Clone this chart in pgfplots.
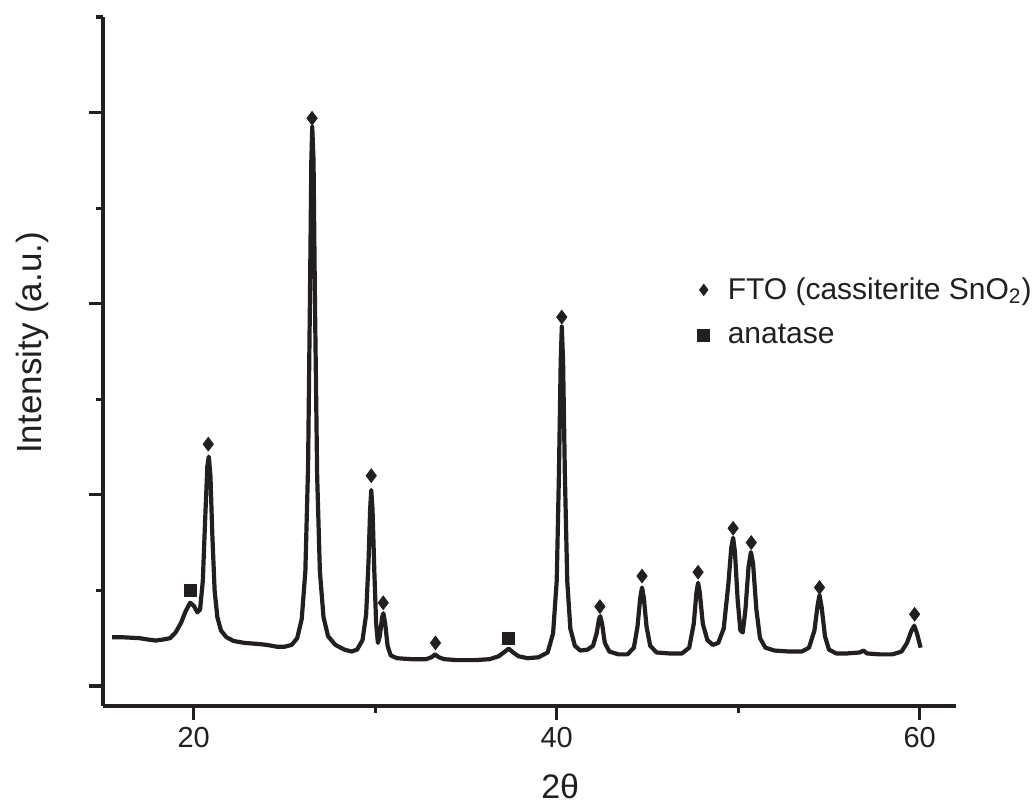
\documentclass[border=0pt]{standalone}
\usepackage{fontspec}
\setmainfont{Liberation Sans}
\usepackage{pgfplots}
\pgfplotsset{compat=1.18}
\usetikzlibrary{calc}
\definecolor{ink}{RGB}{35,31,32}

\begin{document}
\begin{tikzpicture}
\begin{axis}[
  scale only axis,
  width=426.5pt, height=344.5pt,
  xmin=15, xmax=62, ymin=-0.21, ymax=7,
  axis lines*=left,
  axis line style={ink, line width=1.6pt, -},
  tick align=outside,
  major tick length=7pt, minor tick length=3.5pt,
  tick style={ink, line width=1.6pt},
  xtick={20,40,60}, minor xtick={30,50},
  ytick={0,2,4,6}, minor ytick={1,3,5,7}, yticklabels={},
  /pgf/number format/assume math mode=true,
  xticklabel style={font=\fontsize{14.5}{17}\selectfont, text=ink},
  xlabel={2θ}, ylabel={Intensity (a.u.)},
  xlabel style={font=\fontsize{17}{20}\selectfont, text=ink,
    at={(axis description cs:0.536,-0.117)}, anchor=center},
  ylabel style={font=\fontsize{17.5}{20}\selectfont, text=ink,
    at={(axis description cs:-0.083,0.527)}, anchor=center},
  legend style={at={(axis cs:47.75,4.32)}, anchor=north west, draw=none, fill=none,
    font=\fontsize{15}{18}\selectfont, text=ink, row sep=7pt, inner sep=0pt},
  legend cell align=left,
  legend image code/.code={\draw[mark repeat=2,mark phase=2] plot coordinates {(0pt,0pt)(4pt,0pt)(8pt,0pt)};},
  clip=false,
]
\coordinate (sw) at (rel axis cs:0,0);

% XRD pattern
\addplot[ink, line width=2.1pt, line join=round, forget plot] coordinates {
(15.5,0.51) (16.0,0.51) (16.5,0.505) (17.0,0.50) (17.5,0.485) (17.9,0.475)
(18.3,0.485) (18.7,0.50) (19.0,0.56) (19.3,0.66) (19.55,0.78) (19.8,0.87)
(20.0,0.84) (20.2,0.77) (20.35,0.80) (20.5,1.1) (20.62,1.7) (20.75,2.3)
(20.83,2.40) (20.92,2.2) (21.02,1.6) (21.15,1.0) (21.3,0.72) (21.5,0.58)
(21.8,0.51) (22.2,0.47) (22.8,0.45) (23.5,0.44) (24.0,0.43) (24.6,0.41)
(25.0,0.41) (25.4,0.43) (25.7,0.50) (25.95,0.70) (26.15,1.2) (26.3,2.3)
(26.4,4.0) (26.48,5.5) (26.53,5.85) (26.6,5.5) (26.68,4.0) (26.8,2.2)
(26.95,1.2) (27.15,0.72) (27.4,0.52) (27.8,0.43) (28.3,0.38) (28.7,0.36)
(29.0,0.38) (29.3,0.48) (29.5,0.75) (29.63,1.3) (29.72,1.85) (29.78,2.05)
(29.85,1.85) (29.95,1.2) (30.05,0.65) (30.15,0.45) (30.25,0.52) (30.38,0.72)
(30.45,0.76) (30.55,0.65) (30.68,0.42) (30.85,0.32) (31.2,0.29) (32.0,0.28)
(32.8,0.28) (33.1,0.30) (33.3,0.33) (33.5,0.30) (33.8,0.28) (34.5,0.27)
(35.5,0.27) (36.3,0.28) (36.8,0.31) (37.15,0.36) (37.35,0.39) (37.6,0.35)
(37.9,0.31) (38.4,0.29) (39.0,0.30) (39.5,0.35) (39.8,0.55) (40.0,1.1)
(40.12,2.2) (40.22,3.4) (40.28,3.76) (40.35,3.4) (40.45,2.2) (40.58,1.1)
(40.75,0.60) (41.0,0.42) (41.3,0.37) (41.7,0.38) (42.0,0.42) (42.2,0.55)
(42.33,0.70) (42.4,0.73) (42.5,0.65) (42.65,0.45) (42.9,0.36) (43.4,0.33)
(43.9,0.33) (44.25,0.40) (44.45,0.62) (44.6,0.92) (44.7,1.03) (44.8,0.92)
(44.95,0.62) (45.15,0.42) (45.5,0.35) (46.2,0.34) (46.9,0.34) (47.3,0.40)
(47.55,0.65) (47.7,0.98) (47.79,1.08) (47.88,0.98) (48.05,0.65) (48.3,0.48)
(48.6,0.43) (48.9,0.45) (49.2,0.60) (49.45,1.05) (49.62,1.45) (49.72,1.55)
(49.82,1.40) (49.97,0.90) (50.12,0.58) (50.25,0.56) (50.4,0.80) (50.57,1.25)
(50.7,1.40) (50.82,1.28) (51.0,0.80) (51.2,0.50) (51.5,0.40) (52.0,0.37)
(52.8,0.36) (53.5,0.36) (53.9,0.40) (54.2,0.58) (54.38,0.85) (54.48,0.95)
(54.6,0.82) (54.78,0.52) (55.0,0.38) (55.4,0.34) (56.0,0.34) (56.7,0.35)
(56.9,0.37) (57.1,0.34) (57.8,0.33) (58.5,0.33) (59.0,0.36) (59.3,0.45)
(59.55,0.58) (59.7,0.63) (59.85,0.55) (60.05,0.40)
};

% FTO reflections
\addplot[only marks, mark=diamond*, mark size=3.4pt, ink,
  legend image post style={mark size=2.8pt}] coordinates {
(20.80,2.53) (26.52,5.94) (29.78,2.20) (30.44,0.87) (33.32,0.45)
(40.28,3.86) (42.38,0.83) (44.70,1.15) (47.79,1.19) (49.72,1.65)
(50.72,1.50) (54.48,1.03) (59.72,0.75)
};
\addlegendentry{\hspace{7pt}FTO (cassiterite SnO\textsubscript{2})}

% anatase reflections
\addplot[only marks, mark=square*, mark size=3pt, ink] coordinates {
(19.83,1.00) (37.35,0.50)
};
\addlegendentry{\hspace{7pt}anatase}
\end{axis}
\pgfresetboundingbox
\path[use as bounding box] ($(sw)+(-51.5pt,-53pt)$) rectangle ($(sw)+(465pt,353pt)$);
\end{tikzpicture}
\end{document}
